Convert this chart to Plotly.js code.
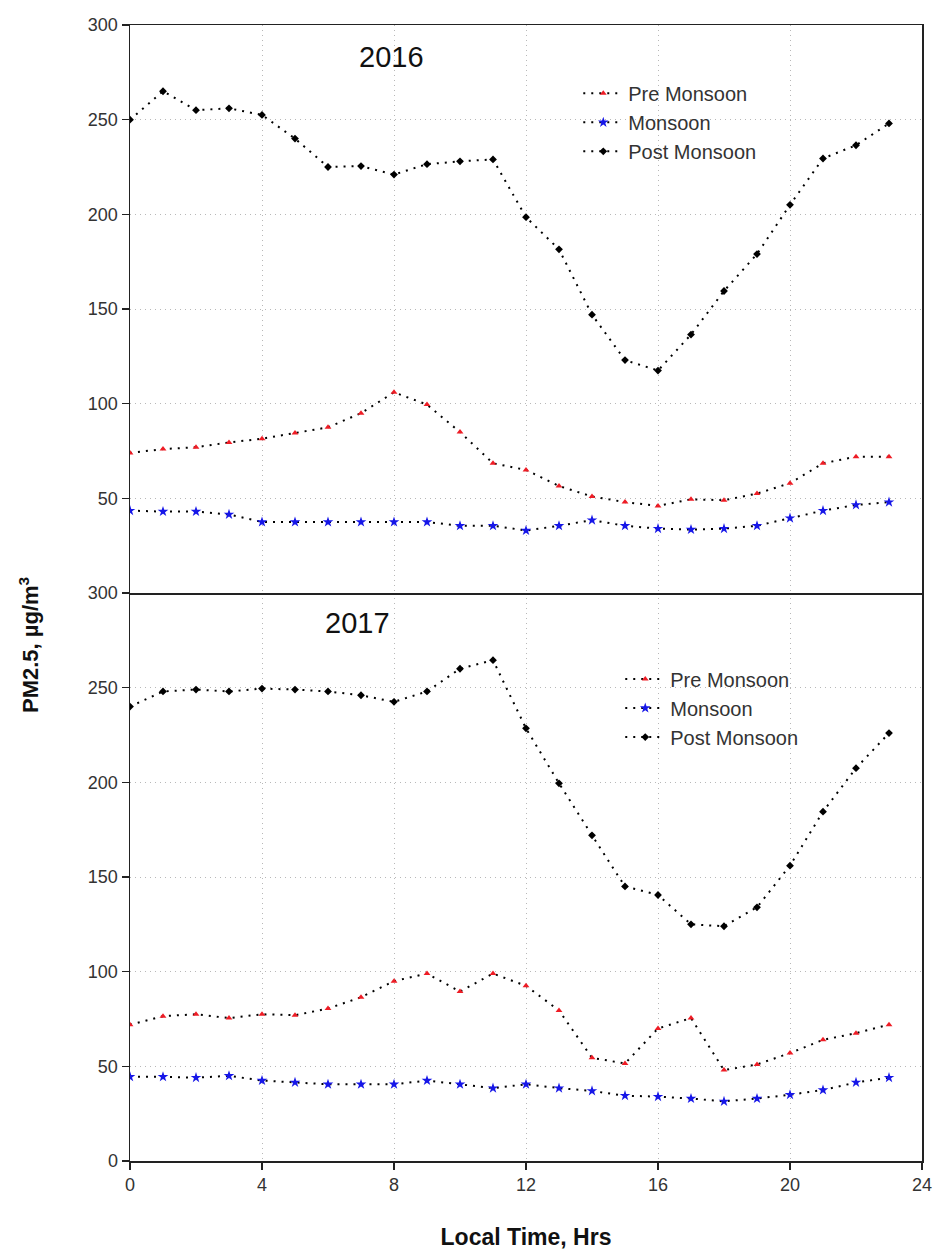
<!DOCTYPE html>
<html>
<head>
<meta charset="utf-8">
<script src="https://cdn.plot.ly/plotly-3.0.1.min.js"></script>
<style>html,body{margin:0;padding:0;background:#fff;}#chart{width:935px;height:1251px;}</style>
</head>
<body>
<div id="chart"></div>
<script>
const hours = [0,1,2,3,4,5,6,7,8,9,10,11,12,13,14,15,16,17,18,19,20,21,22,23];
const seriesNames = ['Pre Monsoon','Monsoon','Post Monsoon'];
const xTicks = [0,4,8,12,16,20,24];
const yTicksTop = [50,100,150,200,250,300];
const yTicksBottom = [0,50,100,150,200,250,300];

const pre2016  = [74,76,77,79.5,81.5,84.5,87.5,95,106,99.5,85,68.5,65,56.5,51,48,46,49.5,49,52.5,58,68.5,72,72];
const mon2016  = [43.5,43,43,41.5,37.5,37.5,37.5,37.5,37.5,37.5,35.5,35.5,33,35.5,38.5,35.5,34,33.5,34,35.5,39.5,43.5,46.5,48];
const post2016 = [250,265,255,256,252.5,240,225,225.5,221,226.5,228,229,198.5,181.5,147,123,117.5,136.5,159.5,179,205,229.5,236.5,248];

const pre2017  = [72,76.5,77.5,75.5,77.5,77,80.5,86.5,95,99,89.5,99,92.5,79.5,54.5,51.5,70,75.5,48,51,57,64,67.5,72];
const mon2017  = [44.5,44.5,44,45,42.5,41.5,40.5,40.5,40.5,42.5,40.5,38.5,40.5,38.5,37,34.5,34,33,31.5,33,35,37.5,41.5,44];
const post2017 = [240,248,249,248,249.5,249,248,246,242.5,248,260,264.5,228.5,199.5,172,145,140.5,125,124,134,156,184.5,207.5,226];

const colors = ['#ee1c25','#1616e8','#000000'];
const symbols = ['triangle-up','star','diamond'];
const sizes = [6,8,6];

function mk(y, i, xa, ya, leg) {
  return {
    x: hours, y: y, type: 'scatter', mode: 'lines+markers',
    name: seriesNames[i], xaxis: xa, yaxis: ya, legend: leg,
    line: {color: '#000', width: 2, dash: '2px,6px'},
    marker: {color: colors[i], size: sizes[i], symbol: symbols[i], line: {width: 0}}
  };
}

const data = [
  mk(pre2016,0,'x2','y2','legend'), mk(mon2016,1,'x2','y2','legend'), mk(post2016,2,'x2','y2','legend'),
  mk(pre2017,0,'x','y','legend2'), mk(mon2017,1,'x','y','legend2'), mk(post2017,2,'x','y','legend2')
];

const tickFont = {family: 'Liberation Sans, Arial, sans-serif', size: 18, color: '#333'};
const gridBase = {showgrid: true, gridcolor: '#b8b8b8', griddash: '1px,4px', gridwidth: 1, zeroline: false,
  showline: true, linecolor: '#222', linewidth: 1.5, mirror: true, tickfont: tickFont,
  ticks: 'outside', ticklen: 7, tickcolor: '#222', tickwidth: 1.3};

const legendFont = {family: 'Liberation Sans, Arial, sans-serif', size: 20, color: '#333'};

const layout = {
  width: 935, height: 1251,
  margin: {l: 130, r: 13, t: 25, b: 90},
  paper_bgcolor: '#fff', plot_bgcolor: '#fff',
  showlegend: true,
  xaxis: Object.assign({}, gridBase, {range: [0,24], domain: [0,1], anchor: 'y', tickvals: xTicks, mirror: false,
    title: {text: 'Local Time, Hrs', font: {family: 'Liberation Sans, Arial', size: 23, color: '#111', weight: 'bold'}, standoff: 35}}),
  xaxis2: Object.assign({}, gridBase, {range: [0,24], domain: [0,1], anchor: 'y2', tickvals: xTicks, showticklabels: false, ticks: ''}),
  yaxis: Object.assign({}, gridBase, {range: [0,300], domain: [0,0.5], anchor: 'x', tickvals: yTicksBottom}),
  yaxis2: Object.assign({}, gridBase, {range: [0,300], domain: [0.5,1], anchor: 'x2', tickvals: yTicksTop}),
  legend: {x: 0.566, y: 0.957, xanchor: 'left', yanchor: 'top', bgcolor: 'rgba(0,0,0,0)', font: legendFont, tracegroupgap: 0, itemwidth: 40},
  legend2: {x: 0.619, y: 0.4414, xanchor: 'left', yanchor: 'top', bgcolor: 'rgba(0,0,0,0)', font: legendFont, tracegroupgap: 0, itemwidth: 40},
  annotations: [
    {text: '2016', xref: 'paper', yref: 'paper', x: (391-130)/792, y: 1-(57-25)/1136, xanchor: 'center', yanchor: 'middle', showarrow: false,
     font: {family: 'Liberation Sans, Arial', size: 29, color: '#111'}},
    {text: '2017', xref: 'paper', yref: 'paper', x: (357-130)/792, y: 1-(623-25)/1136, xanchor: 'center', yanchor: 'middle', showarrow: false,
     font: {family: 'Liberation Sans, Arial', size: 29, color: '#111'}},
    {text: 'PM2.5, µg/m<sup>3</sup>', xref: 'paper', yref: 'paper', x: (29-130)/792, y: 1-(645-25)/1136, xanchor: 'center', yanchor: 'middle', textangle: -90, showarrow: false,
     font: {family: 'Liberation Sans, Arial', size: 22, color: '#111', weight: 'bold'}}
  ]
};

Plotly.newPlot('chart', data, layout, {displayModeBar: false, staticPlot: true});
</script>
</body>
</html>
